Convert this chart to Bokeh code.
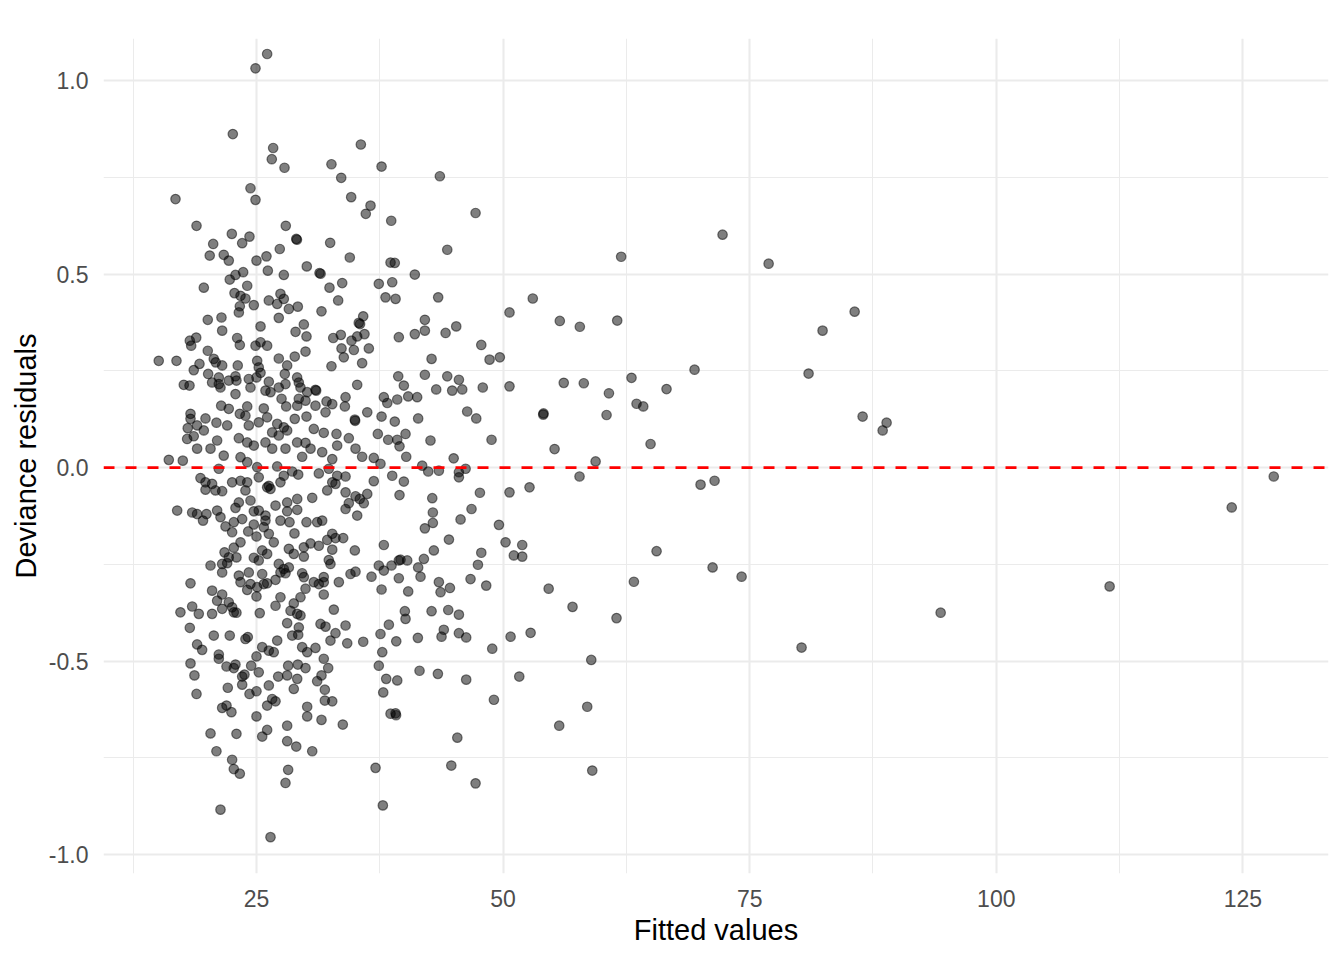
from bokeh.plotting import figure
from bokeh.models import ColumnDataSource, FixedTicker, Span, Range1d, PrintfTickFormatter
from bokeh.embed import file_html
from bokeh.resources import INLINE

# ---- data (fitted value, deviance residual) ----
top_x = [26.08, 24.90, 22.60, 26.69, 26.55, 27.84, 24.39, 16.79, 24.90, 18.92,
         27.97, 22.50, 24.29, 29.03, 29.10, 20.61, 23.55, 27.36, 35.58, 32.60,
         37.68, 33.59, 43.59, 34.60, 36.56, 36.08, 38.66, 47.21, 32.47, 44.34]
top_y = [1.069, 1.032, 0.862, 0.826, 0.797, 0.775, 0.722, 0.694, 0.692, 0.625,
         0.625, 0.604, 0.597, 0.591, 0.589, 0.578, 0.580, 0.565, 0.835, 0.784,
         0.778, 0.749, 0.753, 0.699, 0.677, 0.656, 0.638, 0.658, 0.581, 0.563]

upleft_x = [20.26, 21.68, 22.19, 25.00, 26.01, 26.15, 22.87, 23.65, 22.29, 19.66,
            24.06, 22.77, 23.38, 23.88, 24.73, 26.25, 23.31, 23.21, 20.06, 21.45,
            25.41, 21.52, 23.04, 18.89, 18.24, 18.38, 23.31, 24.90, 25.41, 26.08,
            20.06, 20.67, 20.87, 15.09, 16.89, 25.07, 19.22, 21.52, 23.10, 18.64,
            25.23, 25.41, 20.10, 22.87, 21.18, 17.63, 18.21, 20.50, 21.18, 22.19,
            22.97, 24.22, 25.00, 21.35, 24.39, 25.91, 22.87, 21.42, 22.19, 24.06,
            25.74, 18.31, 19.83, 20.94, 22.03, 23.31, 23.88, 24.22, 25.23, 18.31,
            18.03, 18.98, 19.66, 18.64, 17.97, 21.01, 23.21, 24.06, 24.73, 18.98,
            20.34, 25.91]
upleft_y = [0.548, 0.550, 0.535, 0.535, 0.546, 0.509, 0.498, 0.505, 0.486, 0.465,
            0.470, 0.451, 0.444, 0.437, 0.420, 0.432, 0.417, 0.401, 0.382, 0.388,
            0.365, 0.354, 0.335, 0.336, 0.328, 0.315, 0.317, 0.315, 0.324, 0.315,
            0.302, 0.281, 0.272, 0.276, 0.276, 0.276, 0.268, 0.264, 0.264, 0.252,
            0.259, 0.245, 0.242, 0.236, 0.233, 0.214, 0.212, 0.220, 0.216, 0.225,
            0.225, 0.229, 0.233, 0.207, 0.207, 0.199, 0.190, 0.160, 0.152, 0.158,
            0.153, 0.139, 0.127, 0.116, 0.109, 0.139, 0.134, 0.109, 0.117, 0.126,
            0.102, 0.109, 0.096, 0.081, 0.074, 0.070, 0.076, 0.065, 0.057, 0.049,
            0.049, 0.065]

upmid_x = [27.77, 34.46, 30.10, 31.39, 31.50, 32.40, 33.69, 37.40, 38.08, 38.59,
           33.28, 27.43, 27.10, 27.77, 28.28, 29.19, 31.59, 27.26, 29.80, 28.96,
           30.07, 35.82, 35.37, 35.50, 33.55, 32.78, 34.63, 35.21, 35.95, 33.62,
           34.87, 36.39, 33.85, 27.26, 28.88, 29.97, 32.60, 35.71, 28.11, 27.87,
           29.12, 29.29, 26.25, 27.94, 27.26, 26.42, 29.46, 30.98, 31.05, 30.14,
           35.21, 27.54, 29.29, 29.97, 29.13, 28.01, 30.98, 32.10, 32.68, 34.03,
           33.96, 32.00, 26.08, 28.88, 30.07, 34.97, 35.00, 36.23, 37.68, 37.91,
           38.26, 27.10, 26.59, 27.77, 27.26, 28.11, 30.81, 31.82, 33.11, 34.36,
           37.30, 38.35, 29.12, 29.97, 30.48, 33.18, 26.59, 27.94, 35.04]
upmid_y = [0.498, 0.543, 0.520, 0.503, 0.501, 0.465, 0.477, 0.475, 0.440, 0.530,
           0.432, 0.449, 0.423, 0.436, 0.410, 0.416, 0.404, 0.387, 0.370, 0.351,
           0.339, 0.391, 0.374, 0.371, 0.343, 0.335, 0.328, 0.339, 0.345, 0.308,
           0.304, 0.308, 0.285, 0.282, 0.287, 0.300, 0.262, 0.270, 0.264, 0.242,
           0.233, 0.220, 0.222, 0.216, 0.207, 0.195, 0.207, 0.201, 0.199, 0.195,
           0.214, 0.178, 0.178, 0.173, 0.160, 0.158, 0.160, 0.171, 0.164, 0.182,
           0.158, 0.143, 0.130, 0.126, 0.132, 0.124, 0.121, 0.143, 0.132, 0.182,
           0.167, 0.113, 0.091, 0.104, 0.083, 0.096, 0.100, 0.090, 0.087, 0.076,
           0.087, 0.072, 0.065, 0.064, 0.049, 0.057, 0.049, 0.049, 0.049]

lowleft_x = [16.11, 17.53, 21.68, 23.38, 24.06, 21.18, 19.32, 19.83, 20.50, 19.83,
             20.84, 21.52, 22.53, 23.38, 24.06, 23.88, 25.23, 25.07, 26.08, 23.21,
             24.39, 22.87, 16.96, 18.48, 18.98, 19.93, 21.01, 21.35, 19.58, 24.73,
             25.23, 25.91, 23.55, 25.91, 22.70, 21.86, 22.53, 24.73, 25.74, 24.16,
             25.00, 26.25, 23.38, 22.70, 21.76, 22.19, 22.97, 25.58, 24.73, 25.23,
             20.34, 21.52, 22.03, 21.52, 23.21, 24.22, 25.58, 25.74, 23.38, 24.39,
             25.07, 18.31, 20.50, 21.52, 24.06, 25.00, 21.01, 22.19, 21.52, 22.53,
             22.70, 22.97, 17.29, 18.48, 19.15, 20.50, 25.33, 18.24, 20.67, 22.29,
             23.88, 24.12, 18.98, 19.49, 21.18, 25.58, 26.25]
lowleft_y = [0.020, 0.018, 0.031, 0.027, 0.014, -0.003, -0.027, -0.038, -0.042, -0.057,
             -0.059, -0.061, -0.038, -0.034, -0.038, -0.059, -0.025, 0.001, -0.051, -0.090,
             -0.085, -0.104, -0.111, -0.116, -0.120, -0.120, -0.111, -0.128, -0.137, -0.113,
             -0.111, -0.124, -0.133, -0.137, -0.141, -0.152, -0.167, -0.147, -0.154, -0.165,
             -0.178, -0.171, -0.193, -0.207, -0.219, -0.232, -0.232, -0.214, -0.233, -0.240,
             -0.253, -0.249, -0.247, -0.271, -0.279, -0.271, -0.275, -0.301, -0.296, -0.301,
             -0.309, -0.299, -0.318, -0.328, -0.316, -0.333, -0.344, -0.348, -0.365, -0.361,
             -0.374, -0.375, -0.374, -0.359, -0.378, -0.378, -0.376, -0.414, -0.434, -0.434,
             -0.443, -0.438, -0.457, -0.471, -0.483, -0.464, -0.473]

lowmid_x = [29.63, 31.66, 32.68, 35.71, 36.89, 37.57, 27.10, 27.77, 28.62, 29.23,
            27.43, 26.25, 26.42, 31.32, 32.33, 33.18, 34.03, 32.68, 33.01, 32.17,
            34.03, 35.04, 35.47, 36.23, 35.88, 34.36, 34.03, 35.21, 36.89, 30.65,
            29.13, 28.11, 26.93, 28.11, 29.13, 27.43, 28.35, 30.07, 31.15, 31.66,
            28.85, 32.68, 33.01, 33.79, 32.17, 30.48, 31.32, 29.80, 32.68, 34.97,
            37.91, 26.75, 28.28, 28.78, 29.80, 32.33, 32.50, 26.08, 27.26, 27.77,
            28.28, 27.43, 27.94, 29.63, 29.80, 31.82, 30.81, 31.32, 31.82, 33.35,
            34.53, 35.04, 36.66, 37.40, 37.91, 26.08, 26.93, 29.97, 31.82, 29.46,
            27.43, 26.93, 28.78, 28.45, 29.13, 29.46, 32.84, 37.68, 28.11, 29.29,
            31.49, 32.00, 34.03, 38.42, 33.01, 28.62, 29.23, 27.10, 32.50, 34.20,
            35.82, 37.57, 29.63, 30.98, 26.75, 30.14, 37.75]
lowmid_y = [0.028, 0.040, 0.022, 0.028, 0.025, 0.010, 0.003, -0.021, -0.010, -0.018,
            -0.038, -0.047, -0.055, -0.015, -0.003, -0.021, -0.023, -0.038, -0.042, -0.059,
            -0.064, -0.074, -0.081, -0.068, -0.092, -0.092, -0.107, -0.124, -0.035, -0.078,
            -0.081, -0.090, -0.098, -0.113, -0.109, -0.137, -0.141, -0.141, -0.141, -0.137,
            -0.170, -0.171, -0.182, -0.182, -0.187, -0.196, -0.202, -0.206, -0.212, -0.214,
            -0.200, -0.193, -0.210, -0.223, -0.230, -0.239, -0.249, -0.223, -0.249, -0.262,
            -0.258, -0.271, -0.273, -0.273, -0.283, -0.283, -0.296, -0.301, -0.296, -0.296,
            -0.275, -0.269, -0.282, -0.253, -0.266, -0.299, -0.290, -0.313, -0.328, -0.335,
            -0.335, -0.357, -0.351, -0.370, -0.378, -0.382, -0.367, -0.315, -0.402, -0.413,
            -0.404, -0.411, -0.408, -0.406, -0.428, -0.434, -0.432, -0.447, -0.447, -0.454,
            -0.450, -0.430, -0.464, -0.466, -0.477, -0.477, -0.477]

bottomleft_x = [18.31, 21.18, 21.96, 22.87, 22.70, 24.46, 25.00, 18.71, 23.55, 23.78,
                25.23, 22.09, 23.55, 24.29, 25.00, 26.25, 18.92, 21.52, 21.96, 22.46,
                26.08, 25.00, 20.34, 22.97, 25.58, 26.08, 20.94, 22.53, 22.70, 23.31,
                21.35, 26.42]
bottomleft_y = [-0.506, -0.494, -0.514, -0.509, -0.518, -0.512, -0.488, -0.537, -0.540, -0.535,
                -0.529, -0.569, -0.561, -0.585, -0.578, -0.563, -0.585, -0.621, -0.615, -0.632,
                -0.615, -0.643, -0.687, -0.688, -0.695, -0.678, -0.733, -0.755, -0.779, -0.791,
                -0.884, -0.955]

bottommid_x = [31.82, 28.21, 29.19, 29.97, 32.27, 27.20, 28.11, 29.13, 31.59, 31.15,
               28.78, 31.93, 26.59, 26.93, 31.93, 32.68, 30.14, 30.14, 31.59, 33.75,
               28.11, 28.11, 29.03, 30.65, 37.40, 38.15, 37.85, 38.59, 28.21, 27.94,
               37.07, 37.81]
bottommid_y = [-0.494, -0.512, -0.509, -0.518, -0.518, -0.540, -0.537, -0.546, -0.537, -0.552,
               -0.572, -0.574, -0.598, -0.604, -0.602, -0.604, -0.618, -0.643, -0.652, -0.664,
               -0.667, -0.707, -0.721, -0.733, -0.512, -0.546, -0.581, -0.636, -0.781, -0.815,
               -0.776, -0.873]

mid40_x = [39.02, 41.05, 38.76, 39.10, 43.42, 50.65, 42.07, 45.25, 41.05, 42.07,
           44.17, 39.43, 47.79, 48.63, 49.67, 42.75, 39.37, 42.07, 44.34, 45.52,
           39.94, 43.22, 44.84, 45.86, 47.94, 50.65, 39.27, 40.38, 41.29, 46.36,
           47.28, 41.39, 39.02, 40.11, 39.27, 39.50, 42.64, 48.83, 40.18, 44.99,
           41.80, 42.41, 43.49, 45.52, 45.52, 46.20, 38.76, 39.94, 39.50, 42.82,
           47.65, 50.65, 42.88, 46.80, 45.69, 42.88, 42.07, 49.58, 44.51]
mid40_y = [0.529, 0.499, 0.479, 0.436, 0.440, 0.401, 0.382, 0.365, 0.345, 0.354,
           0.348, 0.337, 0.317, 0.279, 0.285, 0.281, 0.236, 0.240, 0.236, 0.227,
           0.212, 0.202, 0.199, 0.202, 0.207, 0.210, 0.176, 0.184, 0.182, 0.145,
           0.127, 0.127, 0.119, 0.087, 0.072, 0.055, 0.070, 0.072, 0.028, 0.024,
           0.005, -0.010, -0.008, -0.012, -0.025, -0.003, -0.021, -0.036, -0.071, -0.079,
           -0.065, -0.064, -0.116, -0.107, -0.134, -0.143, -0.157, -0.148, -0.186]

low40_x = [42.98, 41.97, 40.28, 39.43, 39.60, 38.69, 41.39, 41.63, 39.43, 47.79,
           47.45, 43.49, 44.61, 43.66, 46.70, 48.29, 40.38, 40.04, 40.11, 42.75,
           44.44, 45.52, 39.17, 41.36, 43.99, 43.76, 45.52, 46.26, 48.90, 41.53,
           43.39, 39.27, 46.26, 49.07, 39.10, 39.15, 45.36, 44.75, 47.21]
low40_y = [-0.214, -0.236, -0.240, -0.240, -0.238, -0.253, -0.258, -0.282, -0.286, -0.220,
           -0.251, -0.296, -0.311, -0.322, -0.288, -0.305, -0.320, -0.371, -0.391, -0.371,
           -0.368, -0.380, -0.449, -0.440, -0.419, -0.437, -0.428, -0.439, -0.468, -0.525,
           -0.533, -0.550, -0.548, -0.600, -0.635, -0.640, -0.698, -0.770, -0.816]

mid60_x = [61.97, 53.01, 55.75, 57.78, 61.57, 56.15, 58.18, 63.02, 66.57, 60.73,
           63.53, 64.21, 54.07, 54.10, 60.49, 64.95, 55.22, 59.38, 57.75, 52.68,
           50.25, 51.94, 51.09, 51.94, 65.56, 63.26, 54.62, 57.04, 61.50, 50.76,
           52.79, 58.94, 51.64, 58.53, 55.69, 59.04]
mid60_y = [0.545, 0.437, 0.379, 0.364, 0.380, 0.219, 0.218, 0.232, 0.203, 0.192,
           0.165, 0.158, 0.137, 0.140, 0.136, 0.061, 0.048, 0.016, -0.023, -0.051,
           -0.193, -0.200, -0.227, -0.230, -0.216, -0.295, -0.313, -0.360, -0.389, -0.437,
           -0.427, -0.497, -0.540, -0.618, -0.667, -0.783]

right_x = [69.41, 72.25, 76.92, 80.97, 82.39, 85.64, 86.45, 88.48, 88.88, 70.02,
           71.44, 71.24, 74.18, 80.26, 94.36, 111.49, 123.87, 128.13]
right_y = [0.253, 0.602, 0.527, 0.243, 0.354, 0.403, 0.132, 0.096, 0.116, -0.044,
           -0.034, -0.258, -0.282, -0.465, -0.375, -0.307, -0.103, -0.023]

x_ticks = [25, 50, 75, 100, 125]
x_minor = [12.5, 37.5, 62.5, 87.5, 112.5]
y_ticks = [-1.0, -0.5, 0.0, 0.5, 1.0]
y_minor = [-0.75, -0.25, 0.25, 0.75]

fitted = (top_x + upleft_x + upmid_x + lowleft_x + lowmid_x + bottomleft_x +
          bottommid_x + mid40_x + low40_x + mid60_x + right_x)
resid = (top_y + upleft_y + upmid_y + lowleft_y + lowmid_y + bottomleft_y +
         bottommid_y + mid40_y + low40_y + mid60_y + right_y)

src = ColumnDataSource(data=dict(fitted=fitted, resid=resid))

FONT = "Liberation Sans"

p = figure(width=1336, height=950, output_backend="svg", toolbar_location=None,
           x_range=Range1d(9.49, 133.68), y_range=Range1d(-1.049, 1.109),
           min_border_left=103, min_border_right=8, min_border_top=38,
           min_border_bottom=77)
p.outline_line_color = None
p.background_fill_color = "white"
p.border_fill_color = "white"

for g in (p.xgrid, p.ygrid):
    g.grid_line_color = "#EBEBEB"
    g.grid_line_width = 2.1
    g.minor_grid_line_color = "#EBEBEB"
    g.minor_grid_line_width = 1.05

p.xaxis.ticker = FixedTicker(ticks=x_ticks, minor_ticks=x_minor)
p.yaxis.ticker = FixedTicker(ticks=y_ticks, minor_ticks=y_minor)
p.yaxis.formatter = PrintfTickFormatter(format="%.1f")

for ax in (p.xaxis, p.yaxis):
    ax.axis_line_color = None
    ax.major_tick_line_color = None
    ax.minor_tick_line_color = None
    ax.major_label_text_font = FONT
    ax.major_label_text_font_size = "23px"
    ax.major_label_text_color = "#4D4D4D"
    ax.axis_label_text_font = FONT
    ax.axis_label_text_font_size = "29px"
    ax.axis_label_text_font_style = "normal"
    ax.axis_label_text_color = "black"

p.xaxis.axis_label = "Fitted values"
p.yaxis.axis_label = "Deviance residuals"
p.xaxis.major_label_standoff = 10
p.yaxis.major_label_standoff = 9
p.xaxis.axis_label_standoff = 4
p.yaxis.axis_label_standoff = 4

p.scatter(x="fitted", y="resid", source=src, size=9.5,
          fill_color="black", fill_alpha=0.5,
          line_color="black", line_alpha=0.5, line_width=1.2)

p.add_layout(Span(location=0, dimension="width", line_color="red",
                  line_dash="11 11", line_width=2.6))

open("out.html", "w").write(file_html(p, INLINE))
